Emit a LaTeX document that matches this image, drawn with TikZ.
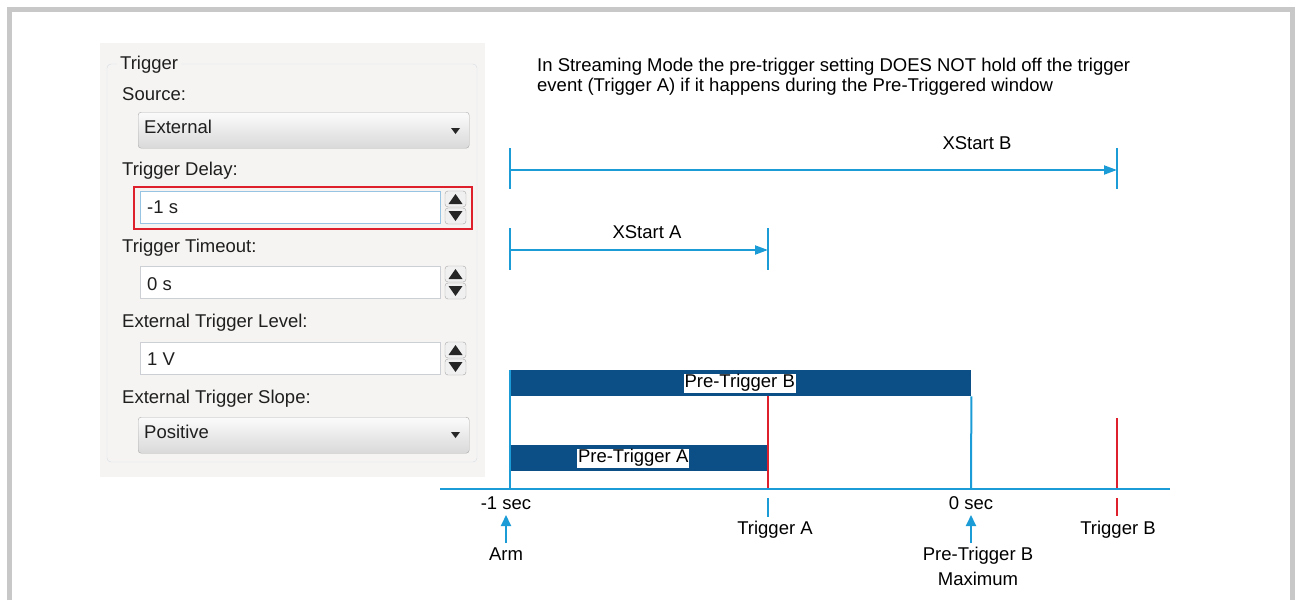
\documentclass[tikz,border=0pt]{standalone}
\usepackage{fontspec}
\setmainfont{Liberation Sans}
\usetikzlibrary{arrows.meta, positioning}

\definecolor{lineblue}{RGB}{28,156,214}
\definecolor{barblue}{RGB}{12,79,134}
\definecolor{trigred}{RGB}{222,32,44}
\definecolor{framegray}{RGB}{200,200,200}
\definecolor{panelbg}{RGB}{245,244,242}
\definecolor{groupline}{RGB}{212,221,228}
\definecolor{boxline}{RGB}{204,208,212}
\definecolor{focusline}{RGB}{150,196,226}

% up/down buttons of a number field, top left corner at (#1,#2)
\newcommand{\spinbox}[2]{%
  \draw[gray!70, fill=gray!12, rounded corners=3pt] (#1,#2) rectangle ++(21,16);
  \draw[gray!70, fill=gray!12, rounded corners=3pt] (#1,#2+17) rectangle ++(21,16);
  \fill[black!85] (#1+3.5,#2+13) -- (#1+17.5,#2+13) -- (#1+10.5,#2+3) -- cycle;
  \fill[black!85] (#1+3.5,#2+20) -- (#1+17.5,#2+20) -- (#1+10.5,#2+30) -- cycle;
}

\begin{document}
\begin{tikzpicture}[x=1pt, y=-1pt,
    every node/.style={font=\fontsize{18.5}{20}\selectfont, text=black!88},
    guilabel/.style={anchor=base west, inner sep=0pt},
    inbox/.style={draw=boxline, fill=white, anchor=north west, minimum width=300pt, minimum height=32pt, inner sep=0pt},
    dropbox/.style={draw=gray!65, rounded corners=3pt, top color=gray!3, bottom color=gray!30, anchor=north west, minimum width=331pt, minimum height=36pt, inner sep=0pt},
    blueline/.style={draw=lineblue, line width=2pt},
    redline/.style={draw=trigred, line width=2pt},
    dimarrow/.style={blueline, -{Triangle[length=13pt, width=9pt]}},
    uparrow/.style={blueline, -{Triangle[length=11pt, width=10pt]}},
    bar/.style={fill=barblue, anchor=north west, minimum height=26pt, inner sep=0pt},
    barlabel/.style={fill=white, inner sep=1pt, text=black},
    timelabel/.style={anchor=base, inner sep=0pt, text=black}]
  \useasboundingbox (0,0) rectangle (1296,600);
  \draw[framegray, line width=5pt] (9.5,600) -- (9.5,9.5) -- (1292.5,9.5) -- (1292.5,600);

  % trigger settings panel
  \fill[panelbg] (100,43) rectangle (485,477);
  \draw[groupline, rounded corners=4pt] (107,64) rectangle (477,462);
  \node[guilabel, fill=panelbg, inner xsep=3pt, inner ysep=2pt] (grp) at (117,69) {Trigger};

  \node[guilabel] (srclbl) at (122,100) {Source:};
  \node[dropbox] (src) at (138,112) {};
  \node[guilabel] (srcval) at (144,133) {External};
  \fill[black!85] (451,128) -- (460,128) -- (455.5,134) -- cycle;

  \node[guilabel] (dlylbl) at (122,175) {Trigger Delay:};
  \node[draw=trigred, line width=1.5pt, anchor=north west, minimum width=338pt, minimum height=42pt, inner sep=0pt] (dlyhl) at (133,186) {};
  \node[inbox, draw=focusline] (dly) at (140,191) {};
  \node[guilabel] (dlyval) at (147,213) {-1 s};
  \spinbox{445}{191}

  \node[guilabel] (tmolbl) at (122,252) {Trigger Timeout:};
  \node[inbox] (tmo) at (140,266) {};
  \node[guilabel] (tmoval) at (147,290) {0 s};
  \spinbox{445}{266}

  \node[guilabel] (lvllbl) at (122,327) {External Trigger Level:};
  \node[inbox] (lvl) at (140,342) {};
  \node[guilabel] (lvlval) at (147,365) {1 V};
  \spinbox{445}{342}

  \node[guilabel] (slplbl) at (122,403) {External Trigger Slope:};
  \node[dropbox] (slp) at (138,417) {};
  \node[guilabel] (slpval) at (144,438) {Positive};
  \fill[black!85] (451,432) -- (460,432) -- (455.5,438) -- cycle;

  % timing diagram
  \node[anchor=north west, inner sep=0pt, align=left, font=\fontsize{18.5}{20.5}\selectfont, text=black] (note) at (537,57.5)
    {In Streaming Mode the pre-trigger setting DOES NOT hold off the trigger\\event (Trigger A) if it happens during the Pre-Triggered window};

  \coordinate (axL) at (440,489);
  \coordinate (axR) at (1170,489);
  \coordinate (m1) at (510,489);
  \coordinate (z0) at (971,489);
  \coordinate (tA) at (768,489);
  \coordinate (tB) at (1117,489);

  \coordinate (xbL) at (510,170);
  \coordinate (xbR) at (1117,170);
  \coordinate (xaL) at (510,250);
  \coordinate (xaR) at (768,250);
  \draw[blueline] ([yshift=22]xbL) -- ([yshift=-19]xbL);
  \draw[blueline] ([yshift=22]xbR) -- ([yshift=-19]xbR);
  \draw[dimarrow] (xbL) -- (xbR);
  \node[timelabel] (xblbl) at (977,149) {XStart B};
  \draw[blueline] ([yshift=22]xaL) -- ([yshift=-20]xaL);
  \draw[blueline] ([yshift=22]xaR) -- ([yshift=-20]xaR);
  \draw[dimarrow] (xaL) -- (xaR);
  \node[timelabel] (xalbl) at (647,238) {XStart A};

  \node[bar, minimum width=461pt] (barB) at (510,370) {};
  \node[bar, minimum width=258pt] (barA) at (510,445) {};
  \node[barlabel] (pbl) at ([xshift=-1]barB.center) {Pre-Trigger B};
  \node[barlabel] (pal) at ([xshift=-6]barA.center) {Pre-Trigger A};

  \draw[blueline] (barB.north west) -- (m1);
  \draw[blueline] (barB.south east) -- (z0);
  \draw[redline] (barB.south -| tA) -- (tA);
  \draw[redline] (1117,418) -- (tB);
  \draw[blueline] (axL) -- (axR);

  \node[timelabel] (m1lbl) at (506,509) {-1 sec};
  \node[timelabel] (armlbl) at (506,560) {Arm};
  \draw[uparrow] (506,543) -- (506,515);

  \draw[blueline] ([yshift=-9]tA) -- ([yshift=-28]tA);
  \node[timelabel] (talbl) at (775,534) {Trigger A};

  \node[timelabel] (z0lbl) at (971,509) {0 sec};
  \draw[uparrow] (971,543) -- (971,515);
  \node[timelabel] (pbmlbl) at (978,560) {Pre-Trigger B};
  \node[timelabel] (maxlbl) at (978,585) {Maximum};

  \draw[redline] ([yshift=-9]tB) -- ([yshift=-27]tB);
  \node[timelabel] (tblbl) at (1118,534) {Trigger B};
\end{tikzpicture}
\end{document}
